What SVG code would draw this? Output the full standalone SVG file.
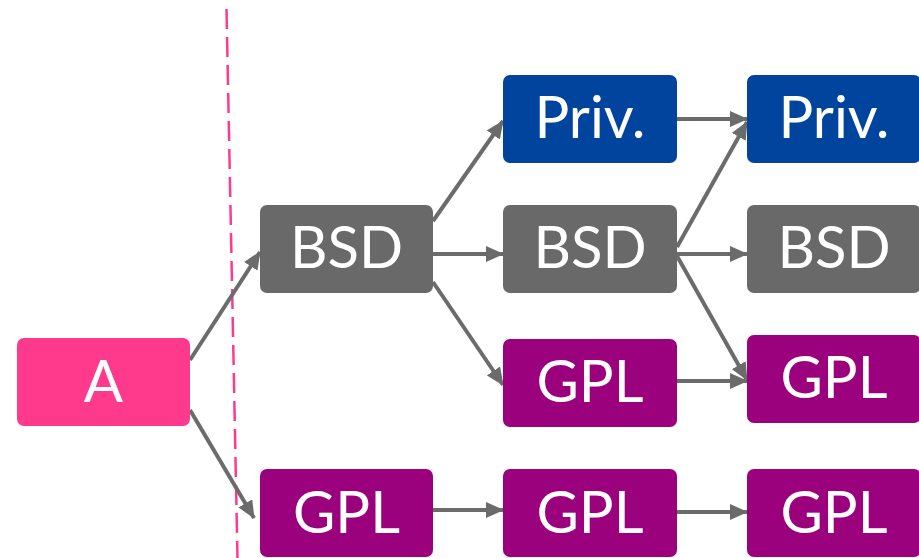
<svg xmlns="http://www.w3.org/2000/svg" width="919" height="558" viewBox="0 0 919 558">
<style>
.n text{font-family:"Lato","Open Sans",sans-serif;font-size:58px;fill:#fff;text-anchor:middle}
.gray{fill:#696969}.blue{fill:#00449E}.purple{fill:#9B007D}.pink{fill:#FF3A8C}
.c line{stroke:#6B6B6B;stroke-width:4;marker-end:url(#ah)}
</style>
<defs>
<marker id="ah" markerUnits="userSpaceOnUse" markerWidth="18" markerHeight="16" refX="17" refY="8" orient="auto"><path d="M0,0 L18,8 L0,16 z" fill="#6B6B6B"/></marker>
</defs>
<line x1="226.5" y1="9" x2="237.5" y2="558" stroke="#FF3A8C" stroke-width="2.5" stroke-dasharray="20 8"/>
<g class="c">
<line x1="190" y1="360" x2="260" y2="252"/>
<line x1="190" y1="410" x2="254" y2="518"/>
<line x1="433" y1="221" x2="503" y2="121"/>
<line x1="433" y1="254" x2="503" y2="254"/>
<line x1="433" y1="282" x2="503" y2="385"/>
<line x1="672" y1="119" x2="747" y2="119"/>
<line x1="677" y1="247" x2="747" y2="122"/>
<line x1="677" y1="254" x2="747" y2="254"/>
<line x1="677" y1="256" x2="747" y2="380"/>
<line x1="677" y1="381" x2="747" y2="381"/>
<line x1="433" y1="510" x2="503" y2="510"/>
<line x1="672" y1="512" x2="747" y2="512"/>
</g>
<g id="A" class="n"><rect class="pink" x="17" y="338" width="173" height="88" rx="7"/><text x="103.5" y="402">A</text></g>
<g id="BSD1" class="n"><rect class="gray" x="260" y="205" width="173" height="88" rx="7"/><text x="346.5" y="268">BSD</text></g>
<g id="GPL1" class="n"><rect class="purple" x="260" y="469" width="173" height="88" rx="7"/><text x="346.5" y="533">GPL</text></g>
<g id="Priv2" class="n"><rect class="blue" x="503" y="75" width="174" height="88" rx="7"/><text x="590" y="138">Priv.</text></g>
<g id="BSD2" class="n"><rect class="gray" x="503" y="205" width="174" height="88" rx="7"/><text x="590" y="268">BSD</text></g>
<g id="GPL2" class="n"><rect class="purple" x="503" y="339" width="174" height="88" rx="7"/><text x="590" y="402">GPL</text></g>
<g id="GPL2b" class="n"><rect class="purple" x="503" y="469" width="174" height="88" rx="7"/><text x="590" y="533">GPL</text></g>
<g id="Priv3" class="n"><rect class="blue" x="747" y="75" width="174" height="88" rx="7"/><text x="834" y="138">Priv.</text></g>
<g id="BSD3" class="n"><rect class="gray" x="747" y="205" width="174" height="88" rx="7"/><text x="834" y="268">BSD</text></g>
<g id="GPL3" class="n"><rect class="purple" x="747" y="335" width="174" height="88" rx="7"/><text x="834" y="398">GPL</text></g>
<g id="GPL3b" class="n"><rect class="purple" x="747" y="469" width="174" height="88" rx="7"/><text x="834" y="533">GPL</text></g>
</svg>
